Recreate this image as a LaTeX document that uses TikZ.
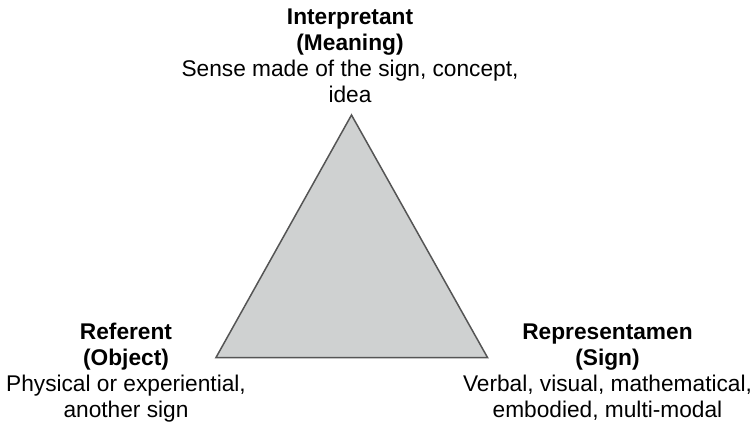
\documentclass[tikz,border=0pt]{standalone}
\usepackage{fontspec}
\setmainfont{Liberation Sans}
\definecolor{trifill}{HTML}{CFD1D1}
\definecolor{triedge}{HTML}{555555}
\tikzset{
  lbl/.style={font=\fontsize{22.7}{26}\selectfont, align=center, inner sep=0pt, anchor=base}
}
\begin{document}
\begin{tikzpicture}[x=1pt, y=1pt, line width=1.5pt]
  \useasboundingbox (0,0) rectangle (755,426);
  % corners of the triangle
  \coordinate (interp) at (351.5,311);
  \coordinate (refer) at (216,68.5);
  \coordinate (sign) at (487.5,68.5);
  \filldraw[fill=trifill, draw=triedge] (refer) -- (interp) -- (sign) -- cycle;
  % labels (base = last line)
  \node[lbl] (interptxt) at (350,323) {\textbf{Interpretant}\\\textbf{(Meaning)}\\Sense made of the sign, concept,\\idea};
  \node[lbl] (refertxt) at (126,9) {\textbf{Referent}\\\textbf{(Object)}\\Physical or experiential,\\another sign};
  \node[lbl] (signtxt) at (607.5,9) {\textbf{Representamen}\\\textbf{(Sign)}\\Verbal, visual, mathematical,\\embodied, multi-modal};
\end{tikzpicture}
\end{document}
